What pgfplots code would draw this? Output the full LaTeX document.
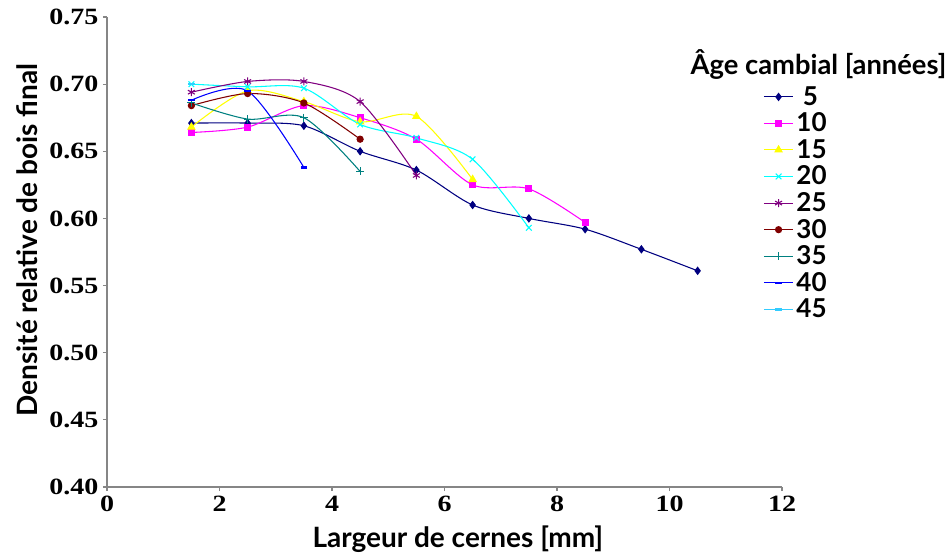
\documentclass[border=0pt]{standalone}
\usepackage{pgfplots}
\pgfplotsset{compat=1.18}
\usepackage{fontspec}
\setmainfont{Lato}
\newfontfamily\numfont[FakeStretch=1.2]{Liberation Serif}
\definecolor{c5}{HTML}{000080}
\definecolor{c10}{HTML}{FF00FF}
\definecolor{c15}{HTML}{FFFF00}
\definecolor{c20}{HTML}{00FFFF}
\definecolor{c25}{HTML}{800080}
\definecolor{c30}{HTML}{800000}
\definecolor{c35}{HTML}{008080}
\definecolor{c40}{HTML}{0000FF}
\definecolor{c45}{HTML}{33CCFF}
\definecolor{axgray}{HTML}{868686}
\begin{document}
\begin{tikzpicture}
\useasboundingbox (-80.25pt,-49.5pt) rectangle (633.75pt,365.25pt);
\begin{axis}[
  at={(0,0)}, anchor=south west,
  scale only axis, width=506.25pt, height=352.5pt,
  xmin=0, xmax=12, ymin=0.40, ymax=0.75,
  xtick={0,2,...,12}, ytick={0.40,0.45,...,0.75},
  axis x line*=bottom, axis y line*=left,
  axis line style={axgray, line width=0.8pt, -},
  tick style={axgray, line width=0.8pt},
  tick align=outside, major tick length=3pt,
  yticklabel style={/pgf/number format/.cd, fixed, fixed zerofill, precision=2},
  ticklabel style={font=\numfont\bfseries\fontsize{17.5}{17.5}\selectfont},
  /pgf/number format/assume math mode=true,
  xlabel={Largeur de cernes [mm]},
  ylabel={Densité relative de bois final},
  label style={font=\bfseries\fontsize{21}{21}\selectfont},
  xlabel style={yshift=-4pt, xshift=10pt},
  ylabel style={yshift=2pt, xshift=9pt},
  clip=false,
  legend style={at={(rel axis cs:0.972,0.864)}, anchor=north west, draw=none, fill=none,
    font=\bfseries\fontsize{19.5}{19.5}\selectfont, row sep=0.2pt,
    cells={anchor=west}, inner xsep=0pt},
  legend image code/.code={\draw[#1, mark repeat=2, mark phase=2] plot coordinates {(0pt,0pt) (11pt,0pt) (22pt,0pt)};},
  every axis plot/.append style={smooth, tension=0.5, line width=0.8pt},
]
\addplot[c5, mark=diamond*, mark size=2.6pt, mark options={solid, fill=c5}] coordinates {
(1.5,0.671) (2.5,0.671) (3.5,0.669) (4.5,0.650) (5.5,0.636) (6.5,0.610) (7.5,0.600) (8.5,0.592) (9.5,0.577) (10.5,0.561)};
\addlegendentry{\ 5}
\addplot[c10, mark=square*, mark size=2.3pt, mark options={fill=c10}] coordinates {
(1.5,0.664) (2.5,0.668) (3.5,0.684) (4.5,0.675) (5.5,0.659) (6.5,0.625) (7.5,0.622) (8.5,0.597)};
\addlegendentry{10}
\addplot[c15, mark=triangle*, mark size=3pt, mark options={fill=c15}] coordinates {
(1.5,0.668) (2.5,0.695) (3.5,0.687) (4.5,0.672) (5.5,0.676) (6.5,0.629)};
\addlegendentry{15}
\addplot[c20, mark=x, mark size=3pt] coordinates {
(1.5,0.700) (2.5,0.698) (3.5,0.697) (4.5,0.670) (5.5,0.660) (6.5,0.644) (7.5,0.593)};
\addlegendentry{20}
\addplot[c25, mark=asterisk, mark size=3pt] coordinates {
(1.5,0.694) (2.5,0.702) (3.5,0.702) (4.5,0.687) (5.5,0.632)};
\addlegendentry{25}
\addplot[c30, mark=*, mark size=2.3pt, mark options={fill=c30}] coordinates {
(1.5,0.684) (2.5,0.693) (3.5,0.686) (4.5,0.659)};
\addlegendentry{30}
\addplot[c35, mark=+, mark size=3pt] coordinates {
(1.5,0.686) (2.5,0.674) (3.5,0.675) (4.5,0.635)};
\addlegendentry{35}
\addplot[c40, mark=-, mark size=2.5pt, mark options={line width=1.8pt}] coordinates {
(1.5,0.688) (2.5,0.695) (3.5,0.638)};
\addlegendentry{40}
\addplot[c45, mark=-, mark size=2.5pt, mark options={line width=1.8pt}] coordinates {
(1.5,0.700)};
\addlegendentry{45}
\node[font=\bfseries\fontsize{20.5}{21}\selectfont, anchor=center] at (rel axis cs:1.054,0.898) {Âge cambial [années]};
\end{axis}
\end{tikzpicture}
\end{document}
